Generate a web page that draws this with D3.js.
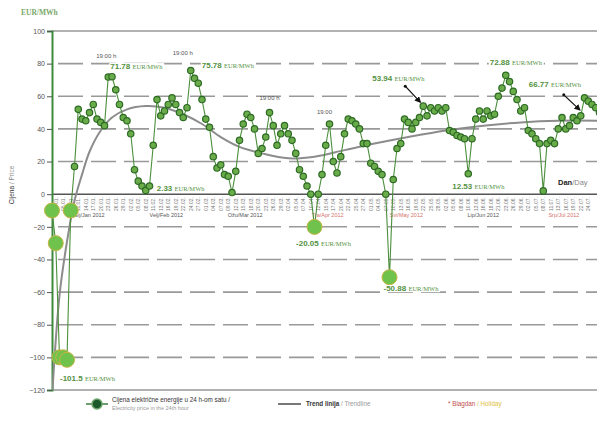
<!DOCTYPE html>
<html>
<head>
<meta charset="utf-8">
<script src="https://cdn.jsdelivr.net/npm/d3@7"></script>
<style>
  body { margin: 0; background: #fff; }
  svg { display: block; font-family: "Liberation Sans", Arial, sans-serif; }
</style>
</head>
<body>
<svg id="chart" width="597" height="428"></svg>
<script>
// price in the 24th hour, one value per working day (EUR/MWh)
const prices = [
  -10, -30, -100, -100, -101.5, -10, 17, 52, 46, 45,
  50, 55, 46, 44, 42, 71.78, 72, 64, 55, 47,
  45, 37, 15, 8, 5, 2.33, 5, 30, 58, 48,
  51, 55, 59, 55, 50, 47, 53, 75.78, 71, 68,
  58, 46, 41, 23, 16, 18, 12, 11, 1, 14,
  33, 43, 49, 47, 40, 25, 28, 35, 50, 42,
  30, 37, 42, 37, 33, 25, 15, 11, 5, 0,
  -20.05, 0, 12, 30, 43, 20, 13, 23, 37, 46,
  45, 43, 40, 31, 31, 19, 17, 14, 12, 0,
  -50.88, 9, 28, 31, 46, 44, 40, 44, 47, 53.94,
  48, 53, 51, 53, 51, 53, 39, 38, 36, 35,
  34, 12.53, 34, 46, 51, 46, 51, 48, 49, 60,
  65, 72.88, 69, 63, 58, 51, 53, 39, 37, 34,
  31, 2, 31, 33, 31, 40, 47, 40, 42, 47,
  45, 48, 59, 57, 55, 53, 50
];

// trendline
const trendDays = [0, 2, 4, 6, 8, 10, 13, 16, 20, 25, 30, 35, 40, 45, 50, 56, 63, 70, 78, 86, 95, 105, 115, 125, 135, 146];
const trendValues = [-125, -62, -29, -4, 12, 26, 39, 47, 52, 54, 53, 49, 43, 35, 29, 25, 22, 23, 27, 31, 35, 39, 42, 44, 45, 45];

const yTicks = [100, 80, 60, 40, 20, 0, -20, -40, -60, -80, -100, -120];

const months = ["Sij/Jan 2012", "Velj/Feb 2012", "Ožu/Mar 2012", "Tra/Apr 2012", "Svi/May 2012", "Lip/Jun 2012", "Srp/Jul 2012"];
const monthStarts = [0, 20, 41, 62, 85, 104, 126, 147];
const monthHoliday = [false, false, false, true, true, false, true];

// annotated points: index, value text, hour text
const notes = [
  { i: 15, text: "71.78", hour: "19:00 h", hx: -2, hy: -19, lx: 2, ly: -8, anchor: "start" },
  { i: 37, text: "75.78", hour: "19:00 h", hx: -8, hy: -16, lx: 11, ly: -3, anchor: "start" },
  { i: 58, hour: "19:00 h", hx: 0, hy: -13 },
  { i: 74, hour: "19:00", hx: -5, hy: -10 },
  { i: 99, text: "53.94", lx: -51, ly: -25, anchor: "start", arrow: [-18, -20, -3, -4] },
  { i: 121, text: "72.88", lx: -16, ly: -10, anchor: "start" },
  { i: 141, text: "66.77", lx: -52, ly: -29, anchor: "start", arrow: [-17, -21, -1, -6] },
  { i: 25, text: "2.33", lx: 11, ly: 1, anchor: "start" },
  { i: 70, text: "-20.05", lx: 9, ly: 19, anchor: "middle" },
  { i: 90, text: "-50.88", lx: -6, ly: 14, anchor: "start" },
  { i: 4, text: "-101.5", lx: -7, ly: 21, anchor: "start" },
  { i: 111, text: "12.53", lx: -16, ly: 15, anchor: "start" }
];

const plotLeft = 52, plotRight = 597, plotTop = 31, plotBottom = 390;
const svg = d3.select("#chart");

const x = d3.scaleLinear().domain([0, 145.33]).range([plotLeft, plotRight]);
const y = d3.scaleLinear().domain([-120, 100]).range([plotBottom, plotTop]);

const defs = svg.append("defs");
defs.append("clipPath").attr("id", "plot")
  .append("rect").attr("x", plotLeft).attr("y", plotTop)
  .attr("width", plotRight - plotLeft).attr("height", plotBottom - plotTop);
defs.append("marker").attr("id", "arr").attr("viewBox", "0 0 10 10")
  .attr("refX", 8).attr("refY", 5).attr("markerWidth", 5).attr("markerHeight", 5).attr("orient", "auto")
  .append("path").attr("d", "M0,0L10,5L0,10z").attr("fill", "#111");

// grid
const grid = svg.append("g");
yTicks.forEach((t) => {
  const solid = t === 100 || t === 0 || t === -120;
  grid.append("line")
    .attr("x1", plotLeft).attr("x2", plotRight).attr("y1", y(t)).attr("y2", y(t))
    .attr("stroke", t === 0 ? "#555" : "#999")
    .attr("stroke-width", 1.6)
    .attr("stroke-dasharray", solid ? null : "25,8")
    .attr("stroke-dashoffset", solid ? null : -6);
});

// y axis
const yAxis = svg.append("g").attr("transform", `translate(${plotLeft},0)`)
  .call(d3.axisLeft(y).tickValues(yTicks).tickSize(5).tickPadding(2));
yAxis.select(".domain").attr("stroke", "#3e8a3e").attr("stroke-width", 2);
yAxis.selectAll(".tick line").attr("stroke", "#555");
yAxis.selectAll(".tick text").attr("font-size", 7).attr("fill", "#555");

svg.append("text").attr("x", 21).attr("y", 15)
  .attr("font-family", "Liberation Serif, serif").attr("font-size", 7.5).attr("font-weight", "bold")
  .attr("fill", "#7aa86a").text("EUR/MWh");

const yt = svg.append("text").attr("transform", "translate(14,185) rotate(-90)")
  .attr("text-anchor", "middle").attr("font-size", 6.5);
yt.append("tspan").attr("fill", "#333").text("Cijena");
yt.append("tspan").attr("fill", "#888").text(" / Price");

// day labels below the zero line
const dayTicks = d3.range(1, prices.length, 2).filter((d) => x(d) + 2 < plotRight - 3);
const dayG = svg.append("g").attr("clip-path", "url(#plot)");
dayTicks.forEach((d) => {
  const m = d3.bisectRight(monthStarts, d) - 1;
  const len = monthStarts[m + 1] - monthStarts[m];
  const dom = 1 + Math.round((d - monthStarts[m]) * 29 / len);
  dayG.append("text")
    .attr("transform", `translate(${x(d) + 2},211) rotate(-90)`)
    .attr("font-size", 5).attr("fill", "#777")
    .text(String(dom).padStart(2, "0") + "." + String(m + 1).padStart(2, "0") + ".");
});
months.forEach((mName, k) => {
  const mid = (monthStarts[k] + monthStarts[k + 1]) / 2;
  dayG.append("text").attr("x", x(mid)).attr("y", 217)
    .attr("text-anchor", "middle").attr("font-size", 5.5)
    .attr("fill", monthHoliday[k] ? "#d4706a" : "#555")
    .text(mName);
});

const dd = svg.append("text").attr("x", 558).attr("y", 185).attr("font-size", 7.5);
dd.append("tspan").attr("fill", "#222").attr("font-weight", "bold").text("Dan");
dd.append("tspan").attr("fill", "#888").text("/Day");

// trendline
const plot = svg.append("g").attr("clip-path", "url(#plot)");
plot.append("path")
  .datum(trendDays.map((d, k) => [d, trendValues[k]]))
  .attr("fill", "none").attr("stroke", "#8c8c8c").attr("stroke-width", 2)
  .attr("d", d3.line().x((d) => x(d[0])).y((d) => y(d[1])).curve(d3.curveCatmullRom.alpha(0.5)));

// price line and points
plot.append("path")
  .datum(prices)
  .attr("fill", "none").attr("stroke", "#4c8f3c").attr("stroke-width", 1.1)
  .attr("d", d3.line().x((d, i) => x(i)).y((d) => y(d)));

const pts = prices.map((v, i) => ({ i, v }));
plot.append("g").selectAll("circle")
  .data(pts.filter((d) => d.v >= 0))
  .join("circle")
  .attr("cx", (d) => x(d.i)).attr("cy", (d) => y(d.v)).attr("r", 3.2)
  .attr("fill", "#6aab4a").attr("stroke", "#2d6b24").attr("stroke-width", 1.2);
svg.append("g").selectAll("circle")
  .data(pts.filter((d) => d.v < 0))
  .join("circle")
  .attr("cx", (d) => x(d.i)).attr("cy", (d) => y(d.v)).attr("r", 7.5)
  .attr("fill", "#6fc24c").attr("stroke", "#c8b445").attr("stroke-width", 1);

// annotations
const ann = svg.append("g");
notes.forEach((n) => {
  const px = x(n.i), py = y(prices[n.i]);
  if (n.hour) {
    ann.append("text").attr("x", px + n.hx).attr("y", py + n.hy)
      .attr("text-anchor", "middle").attr("font-size", 6).attr("fill", "#555").text(n.hour);
  }
  if (n.text) {
    const t = ann.append("text").attr("x", px + n.lx).attr("y", py + n.ly)
      .attr("text-anchor", n.anchor).attr("fill", "#54923f");
    t.append("tspan").attr("font-size", 8).attr("font-weight", "bold").text(n.text + " ");
    t.append("tspan").attr("font-size", 6.5).attr("font-family", "Liberation Serif, serif").text("EUR/MWh");
    const bb = t.node().getBBox();
    ann.insert("rect", () => t.node())
      .attr("x", bb.x - 1).attr("y", bb.y + 1).attr("width", bb.width + 2).attr("height", bb.height - 2)
      .attr("fill", "#fff");
  }
  if (n.arrow) {
    ann.append("circle").attr("cx", px + n.arrow[0]).attr("cy", py + n.arrow[1]).attr("r", 1.5).attr("fill", "#111");
    ann.append("line")
      .attr("x1", px + n.arrow[0]).attr("y1", py + n.arrow[1])
      .attr("x2", px + n.arrow[2]).attr("y2", py + n.arrow[3])
      .attr("stroke", "#111").attr("stroke-width", 1.3).attr("marker-end", "url(#arr)");
  }
});

// legend
const lg = svg.append("g");
lg.append("line").attr("x1", 86).attr("x2", 108).attr("y1", 404).attr("y2", 404)
  .attr("stroke", "#3e7d3e").attr("stroke-width", 1.5);
lg.append("circle").attr("cx", 97).attr("cy", 404).attr("r", 5)
  .attr("fill", "#1d5a2b").attr("stroke", "#6fa56f").attr("stroke-width", 1.5);
lg.append("text").attr("x", 112).attr("y", 402).attr("font-size", 6.3).attr("fill", "#333")
  .text("Cijena električne energije u 24 h-om satu /");
lg.append("text").attr("x", 112).attr("y", 410).attr("font-size", 5.5).attr("fill", "#999")
  .text("Electricity price in the 24th hour");
lg.append("line").attr("x1", 278).attr("x2", 301).attr("y1", 404).attr("y2", 404)
  .attr("stroke", "#777").attr("stroke-width", 2);
const tl = lg.append("text").attr("x", 306).attr("y", 406).attr("font-size", 6.3);
tl.append("tspan").attr("fill", "#333").attr("font-weight", "bold").text("Trend linija");
tl.append("tspan").attr("fill", "#999").text(" / Trendline");
const hl = lg.append("text").attr("x", 448).attr("y", 406).attr("font-size", 6.3);
hl.append("tspan").attr("fill", "#c0504d").text("* Blagdan");
hl.append("tspan").attr("fill", "#e0c040").text(" / Holiday");
</script>
</body>
</html>
